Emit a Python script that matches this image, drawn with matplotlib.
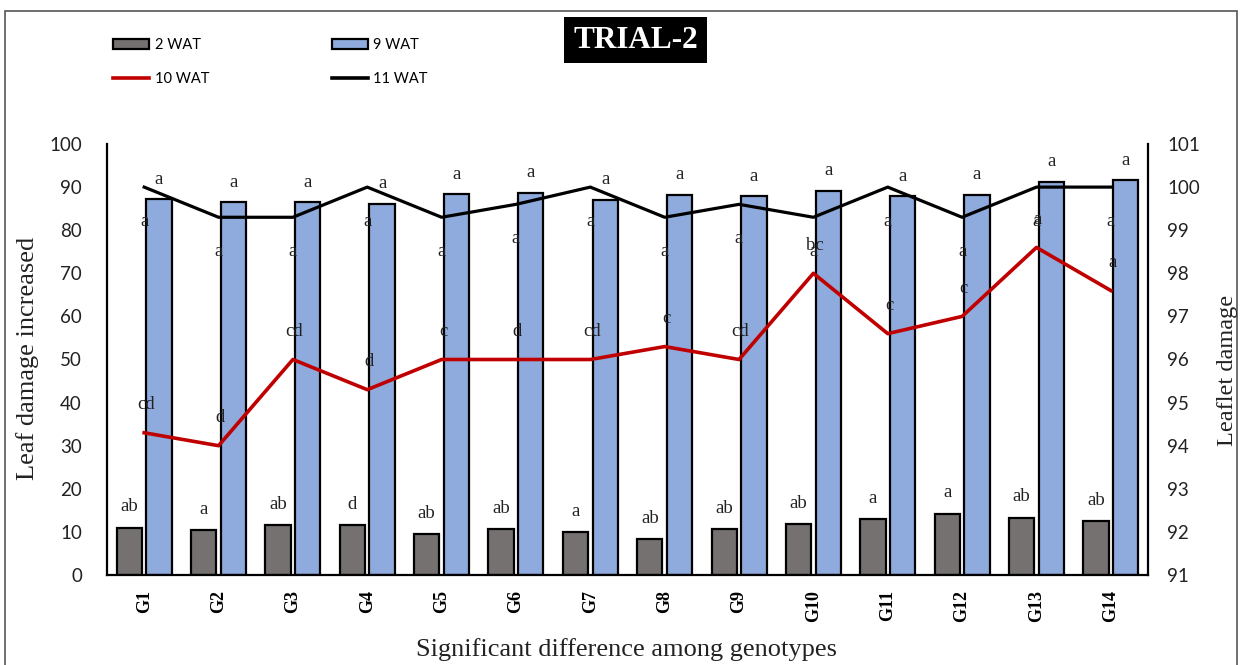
import numpy as np
import matplotlib
matplotlib.use('Agg')
import matplotlib.pyplot as plt
from matplotlib.patches import Rectangle, Patch
from matplotlib.lines import Line2D

# ------------------------------ дані ------------------------------
genotypes = ['G1', 'G2', 'G3', 'G4', 'G5', 'G6', 'G7', 'G8', 'G9', 'G10', 'G11', 'G12', 'G13', 'G14']

wat2 = [11.0, 10.4, 11.5, 11.5, 9.4, 10.7, 10.0, 8.3, 10.7, 11.8, 13.0, 14.2, 13.3, 12.5]
wat9 = [87.2, 86.5, 86.5, 86.1, 88.3, 88.6, 87.0, 88.2, 87.9, 89.1, 87.9, 88.2, 91.2, 91.6]
wat10 = [94.3, 94.0, 96.0, 95.3, 96.0, 96.0, 96.0, 96.3, 96.0, 98.0, 96.6, 97.0, 98.6, 97.6]
wat11 = [100.0, 99.3, 99.3, 100.0, 99.3, 99.6, 100.0, 99.3, 99.6, 99.3, 100.0, 99.3, 100.0, 100.0]

lab2 = ['ab', 'a', 'ab', 'd', 'ab', 'ab', 'a', 'ab', 'ab', 'ab', 'a', 'a', 'ab', 'ab']
lab9 = ['a'] * 14
lab10 = ['cd', 'd', 'cd', 'd', 'c', 'd', 'cd', 'c', 'cd', 'bc', 'c', 'c', 'a', 'a']
lab11 = ['a'] * 14

serif = 'Liberation Serif'
sans = 'Lato'

c_gray = '#767171'
c_blue = '#8FAADC'
c_red = '#C00000'

x = np.arange(len(genotypes))
w = 0.34

fig = plt.figure(figsize=(12.4, 6.65), dpi=100)
ax = fig.add_axes([107 / 1240, 1 - 575 / 665, (1148 - 107) / 1240, (575 - 144) / 665])
ax2 = ax.twinx()

# рамка навколо рисунка
fig.patches.append(Rectangle((5 / 1240, -0.01), 1232 / 1240, 1 - 11 / 665 + 0.01,
                             transform=fig.transFigure, fill=False, edgecolor='#555555', lw=1.2))

# стовпці
ax.bar(x - 0.2, wat2, width=w, color=c_gray, edgecolor='black', linewidth=1.6, zorder=2)
ax.bar(x + 0.2, wat9, width=w, color=c_blue, edgecolor='black', linewidth=1.6, zorder=2)

# лінії
ax2.plot(x, wat10, color=c_red, lw=2.6, zorder=3)
ax2.plot(x, wat11, color='black', lw=2.3, zorder=3)

# літери значущості
for i in range(len(genotypes)):
    ax.annotate(lab2[i], (x[i] - 0.2, wat2[i]), xytext=(0, 15), textcoords='offset points',
                ha='center', va='center', fontsize=13.5, family=serif, color='#222222')
    ax.annotate(lab9[i], (x[i] + 0.2, wat9[i]), xytext=(0, 14.5), textcoords='offset points',
                ha='center', va='center', fontsize=13.5, family=serif, color='#222222')
    ax2.annotate(lab10[i], (x[i], wat10[i]), xytext=(1, 20), textcoords='offset points',
                 ha='center', va='center', fontsize=13.5, family=serif, color='#222222', zorder=5)
    ax2.annotate(lab11[i], (x[i], wat11[i]), xytext=(0, -24.5), textcoords='offset points',
                 ha='center', va='center', fontsize=13.5, family=serif, color='#222222', zorder=5)

ax.set_xlim(-0.5, len(genotypes) - 0.5)
ax.set_ylim(0, 100)
ax.set_yticks(range(0, 101, 10))
ax2.set_ylim(91, 101)
ax2.set_yticks(range(91, 102))

ax.set_xticks(x)
ax.set_xticklabels(genotypes, rotation=90, fontsize=13, family=serif, fontweight='bold')
ax.tick_params(axis='x', length=0, pad=11)
ax.tick_params(axis='y', length=0, pad=18, labelsize=13.5)
ax2.tick_params(axis='y', length=0, pad=14, labelsize=13.5)
for lbl in ax.get_yticklabels() + ax2.get_yticklabels():
    lbl.set_family(sans)
    lbl.set_color('#222222')

for a in (ax, ax2):
    a.spines['top'].set_visible(False)
    for s in ('left', 'right', 'bottom'):
        a.spines[s].set_linewidth(1.6)
        a.spines[s].set_color('black')
ax.spines['right'].set_visible(False)
ax2.spines['left'].set_visible(False)
ax2.spines['bottom'].set_visible(False)

fig.text(28 / 1240, 1 - 358 / 665, 'Leaf damage increased', rotation=90, ha='center', va='center',
         fontsize=19, family=serif, color='#222222')
fig.text(1228 / 1240, 1 - 370 / 665, 'Leaflet damage', rotation=90, ha='center', va='center',
         fontsize=17.5, family=serif, color='#222222')
fig.text(627 / 1240, 1 - 650 / 665, 'Significant difference among genotypes', ha='center', va='center',
         fontsize=19, family=serif, color='#222222')

# заголовок
fig.patches.append(Rectangle((564 / 1240, 1 - 63 / 665), 143 / 1240, 46 / 665,
                             transform=fig.transFigure, facecolor='black', edgecolor='none'))
fig.text(635.5 / 1240, 1 - 40 / 665, 'TRIAL-2', ha='center', va='center', color='white',
         fontsize=22.5, family=serif, fontweight='bold')

# легенда
handles = [Patch(facecolor=c_gray, edgecolor='black', linewidth=1.6),
           Line2D([], [], color=c_red, lw=2.6),
           Patch(facecolor=c_blue, edgecolor='black', linewidth=1.6),
           Line2D([], [], color='black', lw=2.6)]
labels = ['2 WAT', '10 WAT', '9 WAT', '11 WAT']
fig.legend(handles, labels, ncol=2, loc='upper left', bbox_to_anchor=(113 / 1240, 1 - 38 / 665),
           frameon=False, borderpad=0, borderaxespad=0, handlelength=2.5, handleheight=0.65,
           handletextpad=0.35, columnspacing=8.4, labelspacing=1.35,
           prop={'family': sans, 'size': 10.5})

fig.savefig('out.png', dpi=100)
